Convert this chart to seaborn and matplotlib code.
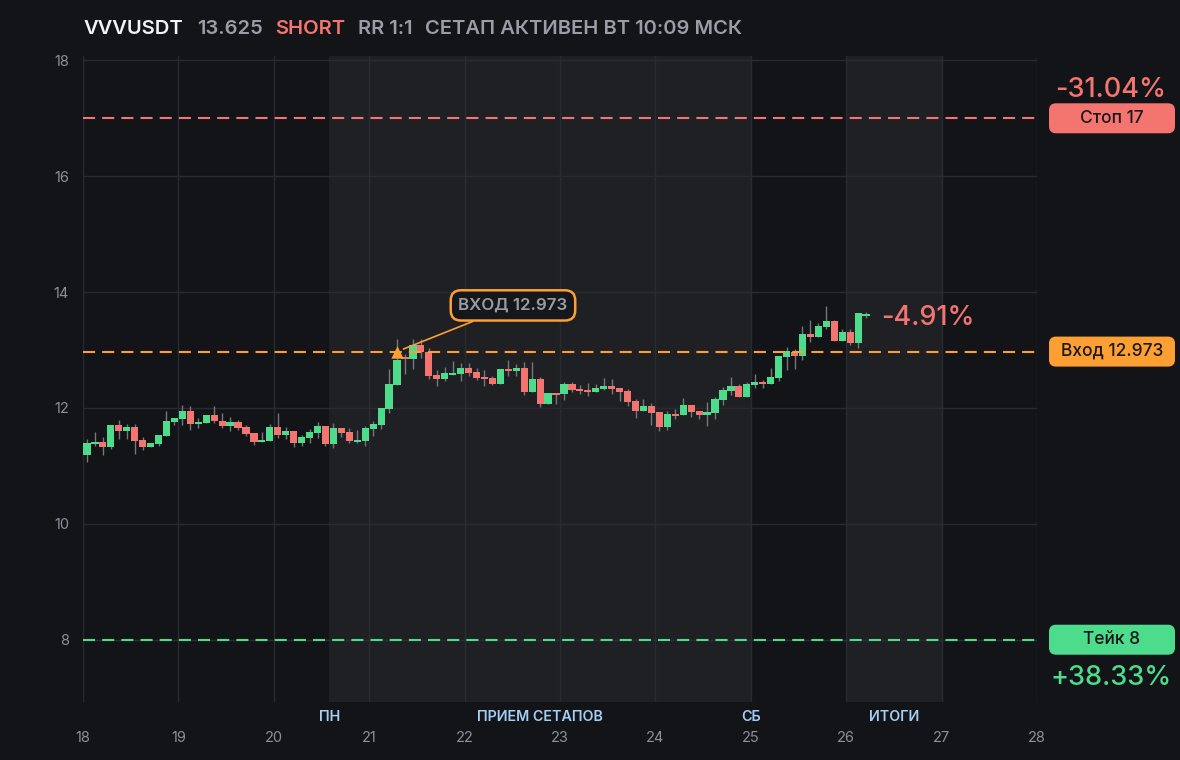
import matplotlib
matplotlib.use("Agg")
import matplotlib.pyplot as plt
from matplotlib.patches import FancyBboxPatch
from matplotlib.transforms import IdentityTransform, blended_transform_factory
import numpy as np
import seaborn as sns

# --- data (2h candles, day-of-month on x) ---
start_day = 18.0
candle_step = 1 / 12
opens = [11.18, 11.38, 11.41, 11.33, 11.70, 11.60, 11.67, 11.44, 11.33, 11.37,
         11.51, 11.76, 11.81, 11.95, 11.73, 11.74, 11.88, 11.78, 11.69, 11.75,
         11.67, 11.56, 11.41, 11.43, 11.67, 11.53, 11.60, 11.40, 11.48, 11.56,
         11.69, 11.38, 11.65, 11.58, 11.41, 11.43, 11.64, 11.71, 11.98, 12.39,
         12.88, 12.85, 13.09, 12.97, 12.57, 12.50, 12.57, 12.59, 12.69, 12.62,
         12.53, 12.52, 12.41, 12.67, 12.64, 12.69, 12.27, 12.50, 12.07, 12.26,
         12.24, 12.41, 12.33, 12.31, 12.27, 12.33, 12.38, 12.34, 12.29, 12.12,
         11.95, 12.03, 11.93, 11.67, 11.89, 11.88, 12.05, 11.95, 11.88, 11.91,
         12.14, 12.29, 12.38, 12.19, 12.40, 12.45, 12.41, 12.52, 12.88, 12.97,
         12.90, 13.28, 13.23, 13.40, 13.50, 13.16, 13.31, 13.12, 13.59]
highs = [11.46, 11.58, 11.50, 11.70, 11.79, 11.72, 11.72, 11.50, 11.39, 11.53,
         11.95, 11.83, 12.05, 12.03, 11.83, 11.88, 12.03, 11.91, 11.84, 11.79,
         11.70, 11.56, 11.58, 11.72, 11.91, 11.67, 11.60, 11.54, 11.63, 11.75,
         11.69, 11.74, 11.65, 11.66, 11.62, 11.69, 11.78, 12.00, 12.67, 13.19,
         12.93, 13.19, 13.19, 13.03, 12.65, 12.71, 12.81, 12.78, 12.78, 12.69,
         12.65, 12.55, 12.67, 12.83, 12.76, 12.79, 12.79, 12.53, 12.26, 12.26,
         12.44, 12.44, 12.39, 12.43, 12.41, 12.52, 12.50, 12.34, 12.33, 12.15,
         12.15, 12.08, 11.93, 11.95, 11.98, 12.17, 12.05, 11.95, 12.10, 12.19,
         12.36, 12.53, 12.41, 12.45, 12.59, 12.48, 12.69, 12.90, 13.05, 13.02,
         13.42, 13.52, 13.47, 13.76, 13.52, 13.36, 13.36, 13.64, 13.66]
lows = [11.07, 11.34, 11.19, 11.29, 11.47, 11.47, 11.21, 11.27, 11.33, 11.35,
        11.51, 11.70, 11.70, 11.62, 11.66, 11.74, 11.74, 11.66, 11.60, 11.62,
        11.52, 11.36, 11.41, 11.43, 11.48, 11.46, 11.33, 11.35, 11.40, 11.48,
        11.35, 11.31, 11.50, 11.40, 11.40, 11.34, 11.51, 11.64, 11.92, 12.39,
        12.58, 12.67, 12.87, 12.50, 12.38, 12.46, 12.57, 12.46, 12.56, 12.48,
        12.38, 12.39, 12.41, 12.55, 12.55, 12.22, 12.27, 12.01, 12.07, 12.07,
        12.14, 12.27, 12.24, 12.20, 12.27, 12.31, 12.24, 12.12, 12.03, 11.82,
        11.95, 11.70, 11.60, 11.62, 11.81, 11.88, 11.84, 11.81, 11.69, 11.81,
        12.05, 12.22, 12.19, 12.19, 12.35, 12.34, 12.41, 12.46, 12.65, 12.67,
        12.83, 13.14, 13.23, 13.36, 13.16, 13.16, 13.09, 13.04, 13.55]
closes = [11.39, 11.41, 11.33, 11.70, 11.60, 11.67, 11.43, 11.33, 11.39, 11.53,
          11.77, 11.83, 11.95, 11.73, 11.76, 11.88, 11.77, 11.69, 11.75, 11.66,
          11.55, 11.41, 11.44, 11.67, 11.53, 11.60, 11.40, 11.50, 11.58, 11.69,
          11.38, 11.65, 11.57, 11.43, 11.44, 11.65, 11.72, 12.00, 12.41, 12.83,
          12.85, 13.09, 12.97, 12.56, 12.50, 12.60, 12.60, 12.69, 12.61, 12.52,
          12.50, 12.41, 12.67, 12.64, 12.69, 12.27, 12.50, 12.07, 12.26, 12.22,
          12.41, 12.31, 12.29, 12.27, 12.34, 12.38, 12.33, 12.27, 12.10, 11.95,
          12.03, 11.91, 11.67, 11.89, 11.86, 12.05, 11.93, 11.88, 11.93, 12.15,
          12.31, 12.38, 12.19, 12.41, 12.45, 12.41, 12.53, 12.90, 12.98, 12.90,
          13.28, 13.23, 13.42, 13.50, 13.16, 13.31, 13.12, 13.64, 13.625]

symbol = "VVVUSDT"
last_price = "13.625"
stop_price = 17
entry_price = 12.973
take_price = 8
entry_candle = 39
pnl_now = "-4.91%"
pnl_stop = "-31.04%"
pnl_take = "+38.33%"
session_start = 20 + 7 / 12   # ПН
session_end = 25.0             # СБ
results_start, results_end = 26.0, 27.0
x_ticks = list(range(18, 29))
y_ticks = [8, 10, 12, 14, 16, 18]

# colours
BG = "#131418"
BAND = "#1f2024"
GRID = "#2a2b30"
GREEN = "#4ddb8c"
RED = "#f47470"
ORANGE = "#fd9f33"
WICK = "#76777c"
MUTED = "#8d9098"
TITLE_GREY = "#9a9da5"
BLUE = "#a6cff6"

sns.set_theme(style="dark", rc={
    "figure.facecolor": BG, "axes.facecolor": BG, "savefig.facecolor": BG,
    "axes.edgecolor": BG, "grid.color": GRID, "text.color": MUTED,
    "xtick.color": MUTED, "ytick.color": MUTED,
})
plt.rcParams["font.family"] = ["Inter", "DejaVu Sans"]

fig = plt.figure(figsize=(11.8, 7.6), dpi=100)
ax = fig.add_axes([83 / 1180, 1 - 701.7 / 760, 954 / 1180, 645.7 / 760])

t = start_day + (np.arange(len(closes)) + 0.5) * candle_step
o = np.array(opens)
c = np.array(closes)
up = c >= o
body_lo = np.minimum(o, c)
body_h = np.maximum(np.abs(c - o), 0.03)

# bands
ax.axvspan(session_start, session_end, color=BAND, zorder=0.2, lw=0)
ax.axvspan(results_start, results_end, color=BAND, zorder=0.2, lw=0)

# candles
ax.vlines(t, lows, highs, color=WICK, lw=1, zorder=2)
ax.bar(t, body_h, bottom=body_lo, width=0.9 * candle_step,
       color=np.where(up, GREEN, RED), lw=0, zorder=3)

# levels
dash = (0, (5.8, 3.4))
ax.axhline(stop_price, color=RED, lw=1.5, ls=dash, zorder=4)
ax.axhline(entry_price, color=ORANGE, lw=1.5, ls=dash, zorder=4)
ax.axhline(take_price, color=GREEN, lw=1.5, ls=dash, zorder=4)

# entry marker + callout
sns.scatterplot(x=[t[entry_candle]], y=[entry_price], marker="^", s=80,
                color=ORANGE, linewidth=0, zorder=6, ax=ax)
ax.annotate(f"ВХОД {entry_price}", xy=(t[entry_candle], entry_price),
            xytext=(22.507, 13.77), ha="center", va="center",
            fontsize=12.2, fontweight="semibold", color=TITLE_GREY, zorder=7,
            bbox=dict(boxstyle="round,pad=0.45,rounding_size=0.6", fc="#16171b",
                      ec=ORANGE, lw=1.8),
            arrowprops=dict(arrowstyle="-", color=ORANGE, lw=1.2,
                            shrinkA=0, shrinkB=5))

ax.set_xlim(18, 28)
ax.set_ylim(6.93, 18.075)
ax.set_xticks(x_ticks)
ax.set_yticks(y_ticks)
ax.tick_params(axis="x", length=0, pad=21, labelsize=10.5, labelcolor=MUTED)
ax.tick_params(axis="y", length=0, pad=10, labelsize=10.5, labelcolor=MUTED)
ax.grid(True, color=GRID, lw=1)
ax.set_axisbelow(True)
for s in ax.spines.values():
    s.set_visible(False)

# session labels under the plot
btf = blended_transform_factory(ax.transData, ax.transAxes)
for xpos, lab in [(session_start, "ПН"),
                  ((session_start + session_end) / 2, "ПРИЕМ СЕТАПОВ"),
                  (session_end, "СБ"),
                  ((results_start + results_end) / 2, "ИТОГИ")]:
    ax.text(xpos, -0.024, lab, transform=btf, ha="center", va="center",
            fontsize=10.3, fontweight="semibold", color=BLUE)

# title row
title_y = 1 - 29.5 / 760
for xpx, txt, col, w in [(83, symbol, "#f2f3f5", "semibold"),
                         (197, last_price, TITLE_GREY, "semibold"),
                         (275, "SHORT", RED, "semibold"),
                         (358, "RR 1:1", TITLE_GREY, "semibold"),
                         (425, "СЕТАП АКТИВЕН ВТ 10:09 МСК", TITLE_GREY, "semibold")]:
    fig.text(xpx / 1180, title_y, txt, ha="left", va="center", fontsize=14.5,
             fontweight=w, color=col)

# right-hand price tags
fig.canvas.draw()
H = 760
for price, lab, col in [(stop_price, f"Стоп {stop_price}", RED),
                        (entry_price, f"Вход {entry_price}", ORANGE),
                        (take_price, f"Тейк {take_price}", GREEN)]:
    yd = ax.transData.transform((20, price))[1]
    box = FancyBboxPatch((1049, yd - 15), 126, 30,
                         boxstyle="round,pad=0,rounding_size=7",
                         transform=IdentityTransform(), fc=col, ec="none")
    fig.add_artist(box)
    fig.text(1112 / 1180, yd / H, lab, ha="center", va="center", fontsize=12.5,
             fontweight="medium", color="#18181b")

fig.text(1111 / 1180, 1 - 90 / H, pnl_stop, ha="center", va="center",
         fontsize=19.5, fontweight="medium", color=RED)
fig.text(1111 / 1180, 1 - 678 / H, pnl_take, ha="center", va="center",
         fontsize=19.5, fontweight="medium", color=GREEN)
fig.text(881 / 1180, 1 - 318 / H, pnl_now, ha="left", va="center",
         fontsize=19.5, fontweight="medium", color=RED)

fig.savefig("out.png", dpi=100, facecolor=BG)
